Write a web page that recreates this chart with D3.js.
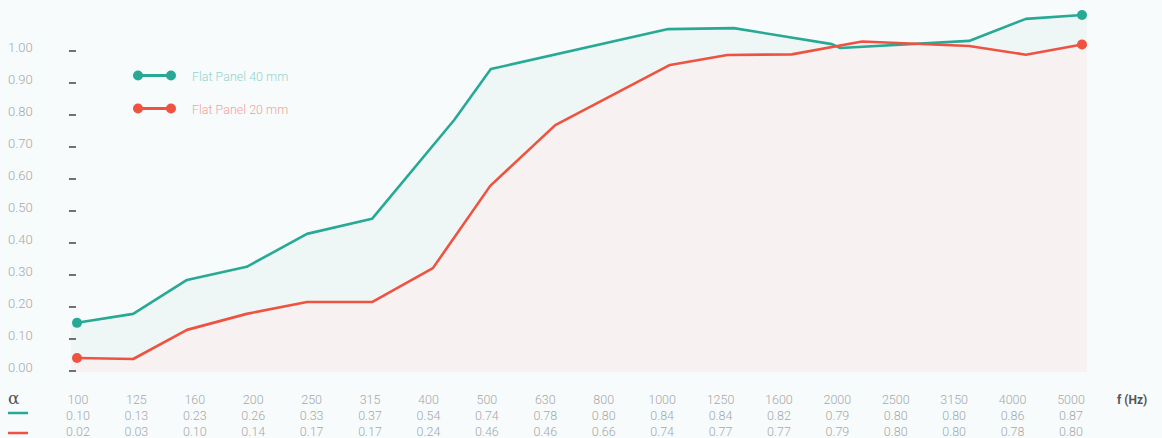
<!DOCTYPE html>
<html>
<head>
<meta charset="utf-8">
<script src="https://cdn.jsdelivr.net/npm/d3@7"></script>
<style>
  html, body { margin: 0; padding: 0; background: #f7fbfc; }
  svg { display: block; font-family: Roboto, "Open Sans", sans-serif; }
</style>
</head>
<body>
<div id="chart"></div>
<script>
// table: frequency bands and absorption coefficients
const freqs = ["100", "125", "160", "200", "250", "315", "400", "500", "630", "800",
  "1000", "1250", "1600", "2000", "2500", "3150", "4000", "5000"];
const alpha40 = ["0.10", "0.13", "0.23", "0.26", "0.33", "0.37", "0.54", "0.74", "0.78", "0.80",
  "0.84", "0.84", "0.82", "0.79", "0.80", "0.80", "0.86", "0.87"];
const alpha20 = ["0.02", "0.03", "0.10", "0.14", "0.17", "0.17", "0.24", "0.46", "0.46", "0.66",
  "0.74", "0.77", "0.77", "0.79", "0.80", "0.80", "0.78", "0.80"];

// curves as drawn (position in band index, value on the axis)
const curve40Pos = [0, 0.95, 1.86, 2.87, 3.89, 4.99, 6.38, 7.0, 10.0, 11.11, 12.77, 12.91, 15.09, 16.05, 17];
const curve40Val = [0.138, 0.166, 0.272, 0.313, 0.416, 0.463, 0.772, 0.931, 1.056, 1.059, 1.009, 0.997, 1.019, 1.088, 1.10];
const curve20Pos = [0, 0.95, 1.86, 2.87, 3.89, 4.99, 6.02, 6.99, 8.09, 10.03, 11.0, 12.09, 13.28, 15.09, 16.05, 17];
const curve20Val = [0.028, 0.025, 0.116, 0.166, 0.203, 0.203, 0.309, 0.566, 0.756, 0.944, 0.975, 0.977, 1.017, 1.003, 0.976, 1.008];

const yTicks = [0, 0.1, 0.2, 0.3, 0.4, 0.5, 0.6, 0.7, 0.8, 0.9, 1.0];

const series = [
  { name: "Flat Panel 40 mm", pos: curve40Pos, val: curve40Val, table: alpha40,
    line: "#27a996", fill: "#eef7f5", text: "#93d4ca" },
  { name: "Flat Panel 20 mm", pos: curve20Pos, val: curve20Val, table: alpha20,
    line: "#ef5240", fill: "#f8f1f1", text: "#f3a397" }
];

// =========================
// SETUP
// =========================
const width = 1162;
const height = 438;

const svg = d3.select("#chart")
  .append("svg")
  .attr("width", width)
  .attr("height", height);

const x = d3.scaleLinear().domain([0, freqs.length - 1]).range([77, 1082]);
const y = d3.scaleLinear().domain([0, 1]).range([367, 47]);
const xTable = d3.scalePoint().domain(freqs).range([78, 1071]);
const bottom = 372;

// =========================
// AREAS
// =========================
const area = d3.area()
  .x(d => d[0])
  .y0(bottom)
  .y1(d => d[1]);

series.forEach(s => {
  const pts = s.pos.map((p, i) => [x(p), y(s.val[i])]);
  pts.unshift([pts[0][0] - 6, pts[0][1]]);
  pts.push([pts[pts.length - 1][0] + 5, pts[pts.length - 1][1]]);
  svg.append("path")
    .attr("d", area(pts))
    .attr("fill", s.fill);
});

// =========================
// Y AXIS
// =========================
const yAxis = svg.append("g");
yAxis.selectAll("text")
  .data(yTicks)
  .enter().append("text")
  .attr("x", 8)
  .attr("y", d => y(d))
  .attr("dy", "0.35em")
  .style("font-size", "13px")
  .style("font-weight", 300)
  .style("fill", "#a6a9ab")
  .text(d => d.toFixed(2));

yAxis.selectAll("line")
  .data(yTicks)
  .enter().append("line")
  .attr("x1", 69)
  .attr("x2", 76)
  .attr("y1", d => Math.round(y(d)) + 4)
  .attr("y2", d => Math.round(y(d)) + 4)
  .attr("stroke", "#707070")
  .attr("stroke-width", 2);

// =========================
// LINES
// =========================
const line = d3.line()
  .x(d => x(d[0]))
  .y(d => y(d[1]));

series.forEach(s => {
  const pts = s.pos.map((p, i) => [p, s.val[i]]);
  svg.append("path")
    .attr("d", line(pts))
    .attr("fill", "none")
    .attr("stroke", s.line)
    .attr("stroke-width", 2.6)
    .attr("stroke-linejoin", "round");

  svg.selectAll(null)
    .data([pts[0], pts[pts.length - 1]])
    .enter().append("circle")
    .attr("cx", d => x(d[0]))
    .attr("cy", d => y(d[1]))
    .attr("r", 5)
    .attr("fill", s.line);
});

// =========================
// LEGEND
// =========================
const legend = svg.append("g");
series.forEach((s, i) => {
  const ly = 75.5 + i * 33;
  legend.append("line")
    .attr("x1", 138).attr("x2", 171)
    .attr("y1", ly).attr("y2", ly)
    .attr("stroke", s.line)
    .attr("stroke-width", 3);
  [138, 171].forEach(cx => {
    legend.append("circle")
      .attr("cx", cx).attr("cy", ly).attr("r", 5)
      .attr("fill", s.line);
  });
  legend.append("text")
    .attr("x", 192)
    .attr("y", ly + 1)
    .attr("dy", "0.35em")
    .style("font-size", "12.5px")
    .style("font-weight", 300)
    .style("fill", s.text)
    .text(s.name);
});

// =========================
// TABLE
// =========================
const table = svg.append("g")
  .style("font-size", "12.5px")
  .style("font-weight", 300)
  .style("fill", "#a6a9ab");

table.selectAll(".freq")
  .data(freqs)
  .enter().append("text")
  .attr("x", d => xTable(d))
  .attr("y", 400)
  .attr("dy", "0.35em")
  .attr("text-anchor", "middle")
  .text(d => d);

series.forEach((s, i) => {
  table.selectAll(null)
    .data(s.table)
    .enter().append("text")
    .attr("x", (d, j) => xTable(freqs[j]))
    .attr("y", 416 + i * 16)
    .attr("dy", "0.35em")
    .attr("text-anchor", "middle")
    .text(d => d);

  svg.append("line")
    .attr("x1", 8).attr("x2", 28)
    .attr("y1", 413 + i * 20).attr("y2", 413 + i * 20)
    .attr("stroke", s.line)
    .attr("stroke-width", 2.5);
});

svg.append("text")
  .attr("x", 8)
  .attr("y", 398)
  .attr("dy", "0.35em")
  .style("font-family", "'DejaVu Serif', serif")
  .style("font-size", "17px")
  .style("fill", "#555")
  .text("α");

svg.append("text")
  .attr("x", 1117)
  .attr("y", 400)
  .attr("dy", "0.35em")
  .style("font-size", "12px")
  .style("font-weight", 700)
  .style("fill", "#555")
  .text("f (Hz)");
</script>
</body>
</html>
